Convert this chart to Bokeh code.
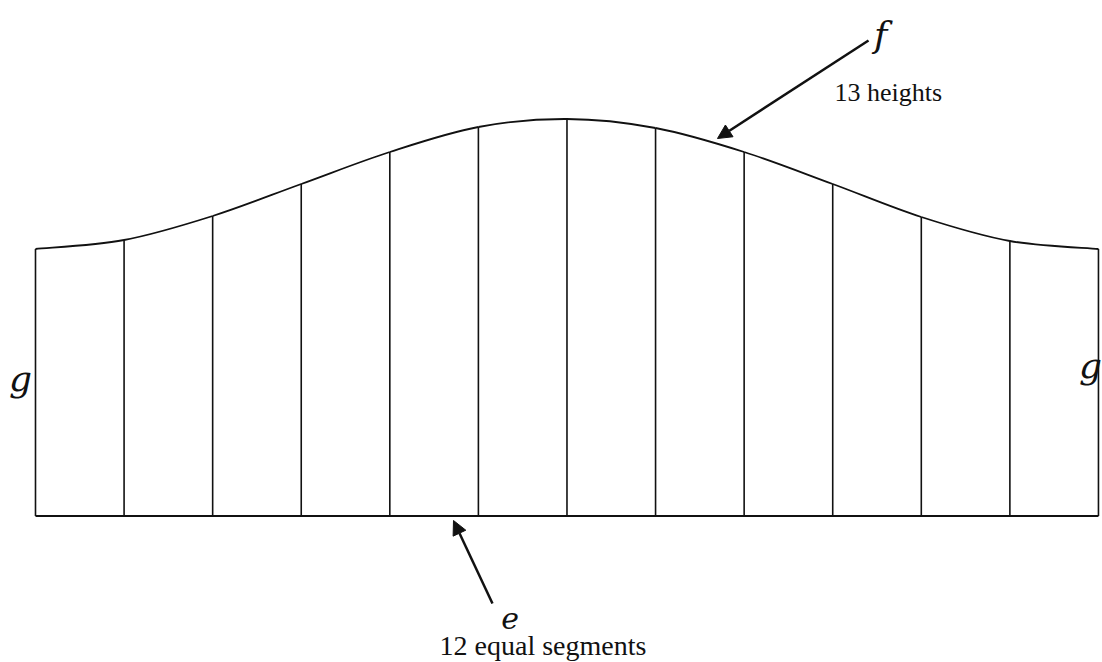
from bokeh.plotting import figure
from bokeh.models import Range1d, Arrow, NormalHead, ColumnDataSource
from bokeh.core.properties import value
from bokeh.embed import file_html
from bokeh.resources import INLINE

# ---- data ----
segment_index = [0, 1, 2, 3, 4, 5, 6, 7, 8, 9, 10, 11, 12]          # 12 equal segments -> 13 positions
heights = [267, 276, 300, 332, 364, 389, 397, 388, 364, 332, 299, 275, 267]  # 13 heights

label_f = "f"
label_heights = "13 heights"
label_e = "e"
label_segments = "12 equal segments"
label_g = "g"

INK = "#111111"
SERIF = value("'Liberation Serif', 'Times New Roman', serif")
SERIF_IT = value("'DejaVu Serif', serif")

p = figure(width=1102, height=662, output_backend="svg", toolbar_location=None,
           x_range=Range1d(-0.3951, 12.0456), y_range=Range1d(-146.5, 515.5),
           min_border=0, background_fill_color="white", border_fill_color="white")
p.axis.visible = False
p.grid.visible = False
p.outline_line_color = None

# vertical heights
src = ColumnDataSource(dict(x=segment_index, h=heights, z=[0] * len(heights)))
p.segment(x0="x", y0="z", x1="x", y1="h", source=src, line_color=INK, line_width=1.6)

# base line
p.line(x=[segment_index[0], segment_index[-1]], y=[0, 0], line_color=INK, line_width=2)

# smooth curve through the tops (Catmull-Rom as cubic Bezier pieces)
n = len(segment_index)
bx0, by0, bx1, by1, cx0, cy0, cx1, cy1 = [], [], [], [], [], [], [], []
for i in range(n - 1):
    xm, ym = segment_index[max(i - 1, 0)], heights[max(i - 1, 0)]
    xa, ya = segment_index[i], heights[i]
    xb, yb = segment_index[i + 1], heights[i + 1]
    xp, yp = segment_index[min(i + 2, n - 1)], heights[min(i + 2, n - 1)]
    bx0.append(xa); by0.append(ya); bx1.append(xb); by1.append(yb)
    cx0.append(xa + (xb - xm) / 6); cy0.append(ya + (yb - ym) / 6)
    cx1.append(xb - (xp - xa) / 6); cy1.append(yb - (yp - ya) / 6)
p.bezier(x0=bx0, y0=by0, x1=bx1, y1=by1, cx0=cx0, cy0=cy0, cx1=cx1, cy1=cy1,
         line_color=INK, line_width=1.8)

# arrows
p.add_layout(Arrow(x_start=9.404, y_start=475.5, x_end=7.699, y_end=377.5,
                   line_color=INK, line_width=2.5,
                   end=NormalHead(size=14, fill_color=INK, line_color=INK, line_width=1)))
p.add_layout(Arrow(x_start=5.159, y_start=-87.5, x_end=4.719, y_end=-4.5,
                   line_color=INK, line_width=2.5,
                   end=NormalHead(size=14, fill_color=INK, line_color=INK, line_width=1)))

# labels
p.text(x=[9.54], y=[481.5], text=[label_f], text_font=SERIF_IT, text_font_style="italic",
       text_font_size="36px", text_align="center", text_baseline="alphabetic", text_color=INK)
p.text(x=[9.02], y=[423.5], text=[label_heights], text_font=SERIF,
       text_font_size="26px", text_align="left", text_baseline="alphabetic", text_color=INK)
p.text(x=[5.357], y=[-101.5], text=[label_e], text_font=SERIF_IT, text_font_style="italic",
       text_font_size="30px", text_align="center", text_baseline="alphabetic", text_color=INK)
p.text(x=[5.729], y=[-129.0], text=[label_segments], text_font=SERIF,
       text_font_size="28px", text_align="center", text_baseline="alphabetic", text_color=INK)
p.text(x=[-0.169, 11.91], y=[137.5, 150.5], text=[label_g, label_g], text_font=SERIF_IT,
       text_font_style="italic", text_font_size="36px", text_align="center",
       text_baseline="alphabetic", text_color=INK)

open("out.html", "w").write(file_html(p, INLINE))
